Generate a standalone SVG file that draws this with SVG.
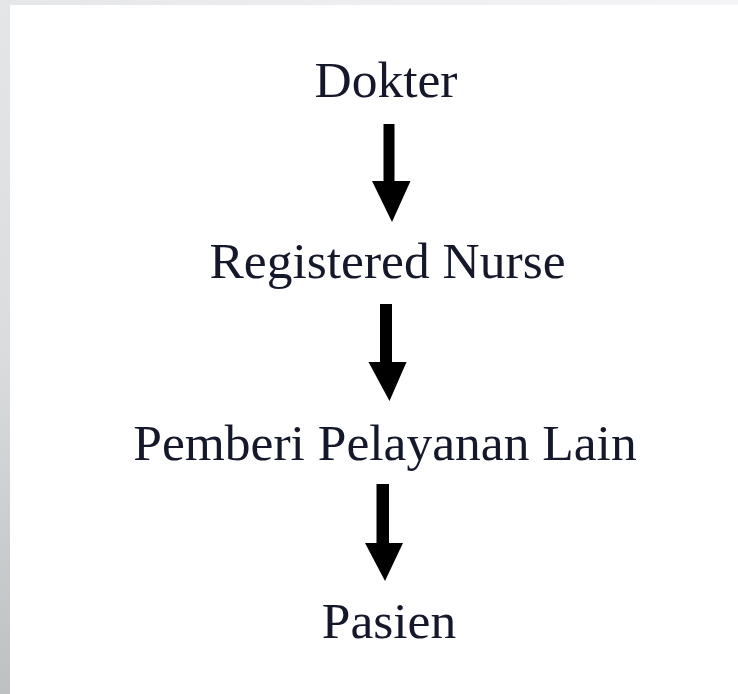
<svg xmlns="http://www.w3.org/2000/svg" width="738" height="694" viewBox="0 0 738 694">
  <style>
    .label { font-family: "Liberation Serif", "Times New Roman", serif; font-size: 51.5px; fill: #14182a; text-anchor: middle; }
    .arrow { fill: #000000; }
  </style>
  <defs>
    <linearGradient id="frameTop" x1="0" y1="0" x2="1" y2="0">
      <stop offset="0" stop-color="#e5e6e7"/>
      <stop offset="1" stop-color="#f5f5f7"/>
    </linearGradient>
    <linearGradient id="frameLeft" x1="0" y1="0" x2="0" y2="1">
      <stop offset="0" stop-color="#e5e6e8"/>
      <stop offset="0.5" stop-color="#dadcde"/>
      <stop offset="1" stop-color="#bdc1c2"/>
    </linearGradient>
  </defs>

  <!-- page background and frame edges -->
  <rect x="0" y="0" width="738" height="694" fill="#ffffff"/>
  <rect x="0" y="0" width="738" height="5" fill="url(#frameTop)"/>
  <rect x="0" y="0" width="10" height="694" fill="url(#frameLeft)"/>

  <!-- nodes -->
  <g id="dokter">
    <text class="label" x="386" y="97">Dokter</text>
  </g>
  <g id="registered-nurse">
    <text class="label" x="387.5" y="278">Registered Nurse</text>
  </g>
  <g id="pemberi-pelayanan-lain">
    <text class="label" x="385" y="460">Pemberi Pelayanan Lain</text>
  </g>
  <g id="pasien">
    <text class="label" x="389" y="638">Pasien</text>
  </g>

  <!-- connectors: block arrows -->
  <g id="connectors">
    <polygon class="arrow" points="383.5,124 394.5,124 394.5,181 410.5,181 392,222 372,181 383.5,181"/>
    <polygon class="arrow" points="380,304 392,304 392,362 406.5,362 389.5,401 368.5,362 380,362"/>
    <polygon class="arrow" points="376.5,484 389,484 389,543 403,543 385,581 365,543 376.5,543"/>
  </g>
</svg>
